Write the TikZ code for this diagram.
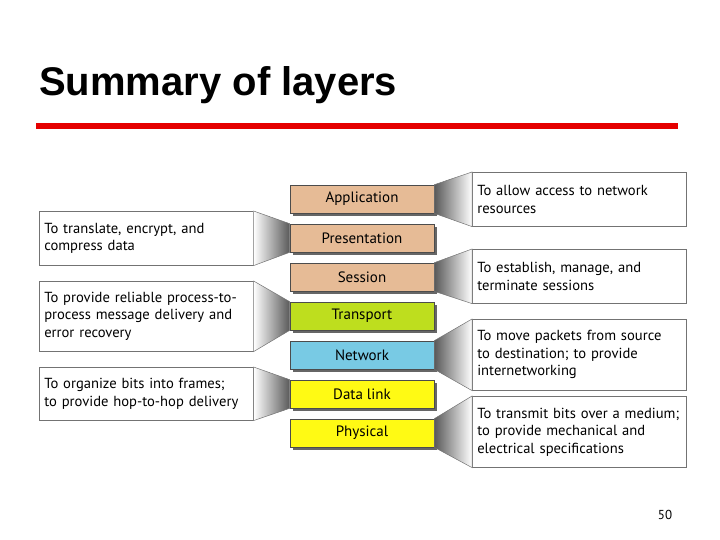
\documentclass[tikz,border=0pt]{standalone}
\usepackage{fontspec}
\usetikzlibrary{shadows}
\setmainfont{PT Sans}
\newfontfamily\titlefont{Liberation Sans}
\begin{document}
\begin{tikzpicture}[x=1pt,y=-1pt,
  layer/.style={draw=black!70,line width=0.6pt,minimum width=144pt,minimum height=28pt,inner sep=0pt,font=\fontsize{15}{17}\selectfont,
    drop shadow={shadow xshift=3pt,shadow yshift=-3pt,fill=black!60,opacity=1}},
  callout/.style={draw=black!55,line width=0.6pt,fill=white,anchor=north west,minimum width=212pt,inner xsep=5pt,inner ysep=3pt,align=left,text width=204pt,font=\fontsize{14.6}{17.5}\selectfont},
  fr/.style={left color=black!65,right color=white},
  fl/.style={right color=black!65,left color=white}]
\useasboundingbox (0,0) rectangle (720,540);
\node[anchor=base west,inner sep=0pt,font=\titlefont\bfseries\fontsize{40}{44}\selectfont] (title) at (39,96) {Summary of layers};
\fill[red!90!black] (36,123) rectangle (678,129);
\node[layer,fill={rgb,255:red,230;green,187;blue,150}] (app) at (362,199) {Application};
\node[layer,fill={rgb,255:red,230;green,187;blue,150}] (pre) at (362,238) {Presentation};
\node[layer,fill={rgb,255:red,230;green,187;blue,150}] (ses) at (362,277) {Session};
\node[layer,fill={rgb,255:red,190;green,222;blue,30}] (tra) at (362,316) {Transport};
\node[layer,fill={rgb,255:red,120;green,202;blue,228}] (net) at (362,355) {Network};
\node[layer,fill={rgb,255:red,255;green,250;blue,20}] (dl) at (362,394) {Data link};
\node[layer,fill={rgb,255:red,255;green,250;blue,20}] (phy) at (362,433) {Physical};
% callouts
\node[callout,minimum height=54pt] (capp) at (472,172) {To allow access to network\\resources};
\node[callout,minimum height=54pt] (cses) at (472,249) {To establish, manage, and\\terminate sessions};
\node[callout,minimum height=71pt] (cnet) at (472,319) {To move packets from source\\to destination; to provide\\internetworking};
\node[callout,minimum height=71pt] (cphy) at (472,396) {To transmit bits over a medium;\\to provide mechanical and\\electrical specifications};
\node[callout,minimum width=211pt,minimum height=54pt] (cpre) at (39,211) {To translate, encrypt, and\\compress data};
\node[callout,minimum width=211pt,minimum height=70pt] (ctra) at (39,281) {To provide reliable process-to-\\process message delivery and\\error recovery};
\node[callout,minimum width=211pt,minimum height=53pt] (cdl) at (39,367) {To organize bits into frames;\\to provide hop-to-hop delivery};
% funnels
\foreach \l/\c in {app/capp,ses/cses,net/cnet,phy/cphy}{
  \shade[fr,draw=black!55,line width=0.5pt] (\l.north east) -- (\c.north west) -- (\c.south west) -- (\l.south east) -- cycle;}
\foreach \l/\c in {pre/cpre,tra/ctra,dl/cdl}{
  \shade[fl,draw=black!55,line width=0.5pt] (\l.north west) -- (\c.north east) -- (\c.south east) -- (\l.south west) -- cycle;}
\node[font=\fontsize{13}{15}\selectfont] (pg) at (665,515) {50};
\end{tikzpicture}
\end{document}
